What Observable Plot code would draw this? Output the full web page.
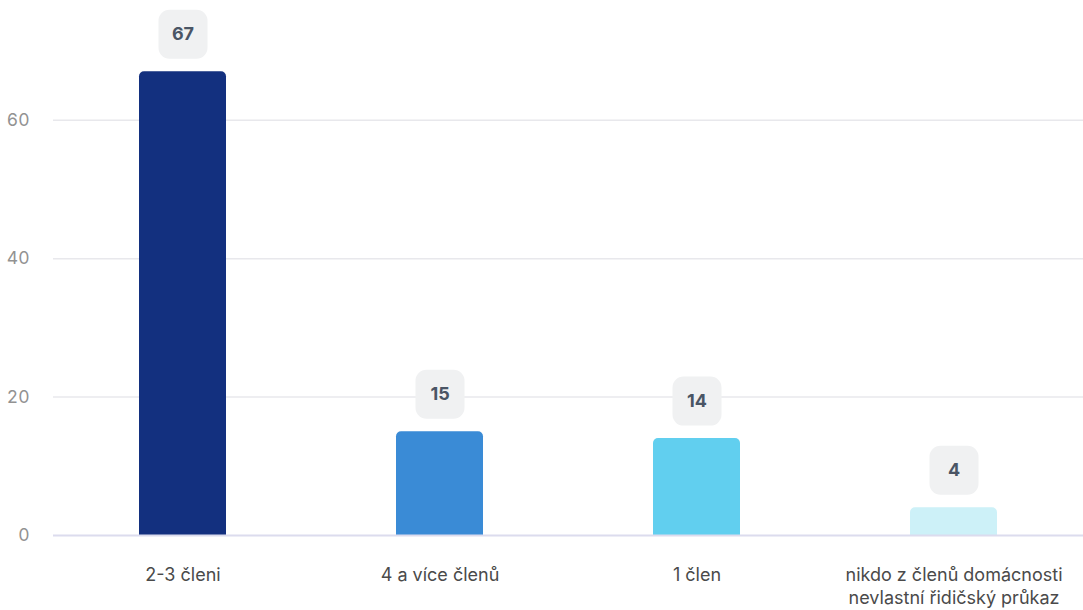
<!DOCTYPE html>
<html>
<head>
<meta charset="utf-8">
<script src="https://cdn.jsdelivr.net/npm/d3@7"></script>
<script src="https://cdn.jsdelivr.net/npm/@observablehq/plot@0.6"></script>
<style>
  html, body { margin: 0; padding: 0; background: #fff; }
  #chart { width: 1083px; height: 610px; }
  svg { font-family: Inter, "Noto Sans", sans-serif; }
</style>
</head>
<body>
<div id="chart"></div>
<script>
const categories = ["2-3 členi", "4 a více členů", "1 člen", "nikdo z členů domácnosti\nnevlastní řidičský průkaz"];
const values = [67, 15, 14, 4];
const colors = ["#13307f", "#3a8bd6", "#61cfef", "#cdf1f8"];
const yTicks = [0, 20, 40, 60];

const data = categories.map((c, i) => ({category: c, value: values[i], color: colors[i]}));

const roundedBox = {
  draw(context) {
    const w = 49, h = 49, r = 11;
    const x0 = -w / 2, y0 = -h / 2, x1 = w / 2, y1 = h / 2;
    context.moveTo(x0 + r, y0);
    context.arcTo(x1, y0, x1, y1, r);
    context.arcTo(x1, y1, x0, y1, r);
    context.arcTo(x0, y1, x0, y0, r);
    context.arcTo(x0, y0, x1, y0, r);
    context.closePath();
  }
};

const chart = Plot.plot({
  width: 1083,
  height: 610,
  marginLeft: 53,
  marginRight: 0,
  marginTop: 0,
  marginBottom: 75,
  style: {fontFamily: "Inter, 'Noto Sans', sans-serif", background: "#fff", fontSize: "16px"},
  x: {domain: categories, paddingInner: 0.66, paddingOuter: 0.33, label: null},
  y: {domain: [0, 77.3], label: null},
  marks: [
    Plot.ruleY(yTicks.filter(d => d > 0), {stroke: "#e8e8ec", strokeWidth: 1.5}),
    Plot.axisY(yTicks, {tickSize: 0, tickPadding: 24, fontSize: 17.5, fill: "#929292", label: null}),
    Plot.barY(data, {x: "category", y: "value", fill: "color", ry1: 5}),
    Plot.ruleY([0], {stroke: "#dcdcee", strokeWidth: 2}),
    Plot.axisX({tickSize: 0, tickPadding: 30, fontSize: 18, fill: "#4a4a4a", lineHeight: 1.25, label: null}),
    Plot.dot(data, {x: "category", y: "value", symbol: roundedBox, r: 10, fill: "#f0f1f2", stroke: null, dy: -37.5}),
    Plot.text(data, {x: "category", y: "value", text: d => String(d.value), dy: -37.5, fontSize: 18, fontWeight: "bold", fill: "#4a5565"})
  ]
});
document.getElementById("chart").appendChild(chart);
</script>
</body>
</html>
